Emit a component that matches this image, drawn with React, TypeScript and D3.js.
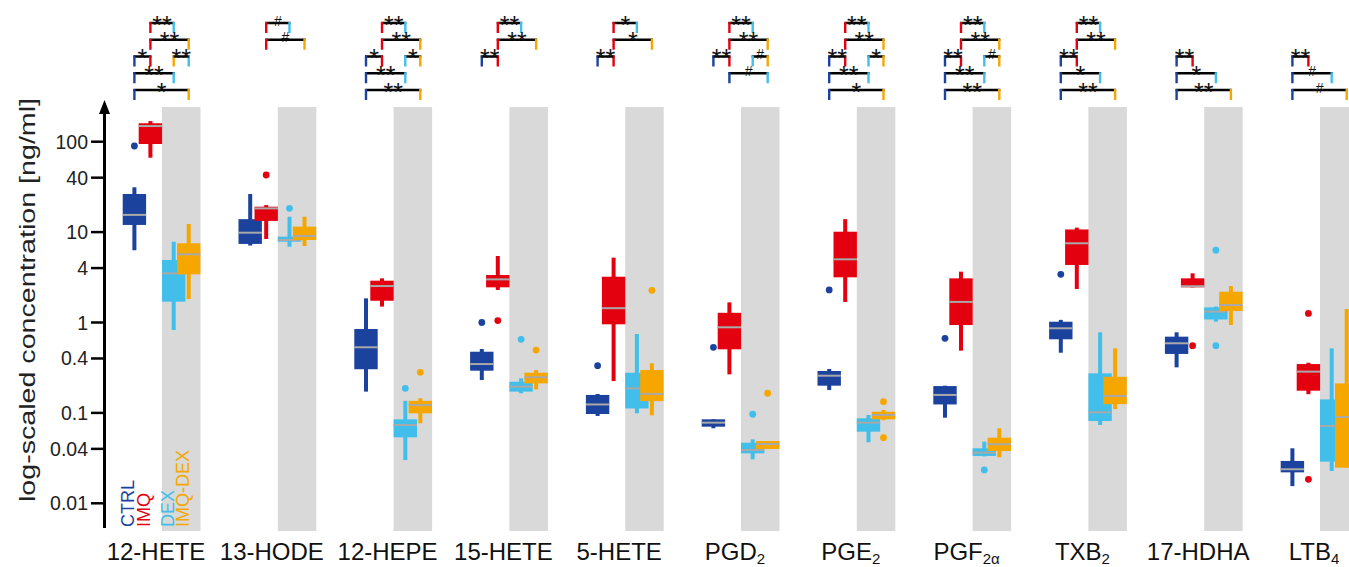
import React from 'react'
import * as d3 from 'd3'

// categories (base name + subscript) and treatment groups
const categories = ['12-HETE', '13-HODE', '12-HEPE', '15-HETE', '5-HETE', 'PGD', 'PGE', 'PGF', 'TXB', '17-HDHA', 'LTB']
const categorySubs = ['', '', '', '', '', '2', '2', '2α', '2', '', '4']
const groups = ['CTRL', 'IMQ', 'DEX', 'IMQ-DEX']
const colors = ['#1b429c', '#e3000f', '#41bfea', '#f5a700']
const yTicks = [100, 40, 10, 4, 1, 0.4, 0.1, 0.04, 0.01]

// box stats per category: [low whisker, q1, median, q3, high whisker]
const ctrlStats = [
  [6.3, 12.0, 15.5, 26.4, 31.3],
  [7.1, 7.4, 9.85, 13.9, 26.4],
  [0.172, 0.304, 0.532, 0.848, 1.85],
  [0.231, 0.293, 0.347, 0.475, 0.509],
  [0.0925, 0.0972, 0.124, 0.158, 0.162],
  [0.0676, 0.0704, 0.078, 0.0849, 0.0849],
  [0.179, 0.2, 0.258, 0.291, 0.306],
  [0.0885, 0.124, 0.158, 0.198, 0.2],
  [0.463, 0.652, 0.863, 1.02, 1.07],
  [0.319, 0.449, 0.589, 0.697, 0.779],
  [0.0155, 0.022, 0.0238, 0.0294, 0.0406],
]
const imqStats = [
  [66.5, 94.3, 149, 160, 169],
  [8.39, 13.3, 18.3, 19.1, 19.9],
  [1.5, 1.74, 2.53, 2.9, 3.08],
  [2.29, 2.45, 3.0, 3.35, 5.44],
  [0.225, 0.955, 1.44, 3.21, 5.21],
  [0.267, 0.505, 0.885, 1.28, 1.67],
  [1.69, 3.16, 5.0, 10.1, 13.9],
  [0.488, 0.938, 1.69, 3.08, 3.65],
  [2.35, 4.33, 7.52, 10.7, 11.2],
  [2.45, 2.45, 2.52, 3.08, 3.5],
  [0.161, 0.176, 0.286, 0.347, 0.359],
]
const dexStats = [
  [0.826, 1.7, 3.5, 4.91, 7.83],
  [6.89, 7.83, 8.18, 8.9, 14.8],
  [0.0301, 0.0537, 0.0735, 0.0849, 0.136],
  [0.165, 0.172, 0.195, 0.221, 0.241],
  [0.099, 0.112, 0.187, 0.278, 0.746],
  [0.0307, 0.0357, 0.0389, 0.0468, 0.051],
  [0.0473, 0.062, 0.078, 0.0871, 0.0948],
  [0.033, 0.0334, 0.0363, 0.0406, 0.048],
  [0.0735, 0.0813, 0.1015, 0.274, 0.779],
  [1.02, 1.08, 1.32, 1.47, 1.5],
  [0.0228, 0.0289, 0.0716, 0.141, 0.518],
]
const imqDexStats = [
  [1.82, 3.41, 5.68, 7.52, 12.3],
  [7.02, 8.18, 9.06, 11.5, 14.8],
  [0.0767, 0.099, 0.122, 0.136, 0.145],
  [0.182, 0.212, 0.248, 0.278, 0.298],
  [0.094, 0.135, 0.162, 0.298, 0.354],
  [0.0399, 0.0399, 0.0453, 0.0489, 0.0489],
  [0.083, 0.0849, 0.0948, 0.103, 0.108],
  [0.0323, 0.0379, 0.045, 0.0532, 0.0676],
  [0.11, 0.125, 0.154, 0.251, 0.518],
  [0.938, 1.34, 1.56, 2.19, 2.53],
  [0.0248, 0.0248, 0.09, 0.212, 1.41],
]

// outliers per category
const ctrlOutliers = [[89.6], [], [], [1.0], [0.333], [0.532], [2.29], [0.669], [3.41], [], []]
const imqOutliers = [[], [42.8], [], [1.05], [], [], [], [], [], [0.554], [1.26, 0.0184]]
const dexOutliers = [[], [18.3], [0.187], [0.652], [], [0.0966], [], [0.0234], [], [6.3, 0.554], []]
const imqDexOutliers = [[], [], [0.281], [0.496], [2.27], [0.165], [0.133, 0.0532], [], [], [], []]

// significance brackets: [category, row, from slot, to slot, label, from colour, to colour]
const brackets = [
  [0, 0, 1, 2, '**'], [0, 1, 1, 3, '**'], [0, 2, 0, 1, '*'], [0, 2, 2, 3, '**', 3, 2], [0, 3, 0, 2, '**'], [0, 4, 0, 3, '*'],
  [1, 0, 1, 2, '#'], [1, 1, 1, 3, '#'],
  [2, 0, 1, 2, '**'], [2, 1, 1, 3, '**'], [2, 2, 0, 1, '*'], [2, 2, 2, 3, '*'], [2, 3, 0, 2, '**'], [2, 4, 0, 3, '**'],
  [3, 0, 1, 2, '**'], [3, 1, 1, 3, '**'], [3, 2, 0, 1, '**'],
  [4, 0, 1, 2, '*'], [4, 1, 1, 3, '*'], [4, 2, 0, 1, '**'],
  [5, 0, 1, 2, '**'], [5, 1, 1, 3, '**'], [5, 2, 0, 1, '**'], [5, 2, 2, 3, '#'], [5, 3, 1, 3, '#', 0, 2],
  [6, 0, 1, 2, '**'], [6, 1, 1, 3, '**'], [6, 2, 0, 1, '**'], [6, 2, 2, 3, '*'], [6, 3, 0, 2, '**'], [6, 4, 0, 3, '*'],
  [7, 0, 1, 2, '**'], [7, 1, 1, 3, '**'], [7, 2, 0, 1, '**'], [7, 2, 2, 3, '#'], [7, 3, 0, 2, '**'], [7, 4, 0, 3, '**'],
  [8, 0, 1, 2, '**'], [8, 1, 1, 3, '**'], [8, 2, 0, 1, '**'], [8, 3, 0, 2, '*'], [8, 4, 0, 3, '**'],
  [9, 2, 0, 1, '**'], [9, 3, 0, 2, '*'], [9, 4, 0, 3, '**'],
  [10, 2, 0, 1, '**'], [10, 3, 0, 2, '#'], [10, 4, 0, 3, '#'],
]

const stats = [ctrlStats, imqStats, dexStats, imqDexStats]
const outliers = [ctrlOutliers, imqOutliers, dexOutliers, imqDexOutliers]

const W = 1349
const H = 567
const FONT = '"Liberation Sans", Arial, sans-serif'
const boxW = 23.4
const slotLeft = [-39.3, -23.3, 0, 15]

export default function App() {
  const y = d3.scaleLog().domain([0.01, 100]).range([503.3, 141.7])
  const band = d3.scaleLinear().domain([0, categories.length - 1]).range([162, 1320])
  const rowY = d3.scaleLinear().domain([0, 4]).range([23, 90])
  const cx = (c, g) => band(c) + slotLeft[g] + boxW / 2

  return (
    <svg width={W} height={H} style={{ position: 'absolute', left: 0, top: 0, background: '#fff' }} fontFamily={FONT}>
      {/* shaded DEX columns */}
      {categories.map((c, i) => (
        <rect key={'bg' + i} x={band(i)} y={107} width={38.5} height={424} fill="#d9d9d9" />
      ))}

      {/* y axis */}
      <line x1={104.5} x2={104.5} y1={110} y2={528} stroke="#000" strokeWidth={3} />
      <path d="M104.5,100 L110,114 L99,114 Z" fill="#000" />
      {yTicks.map((t) => (
        <g key={'t' + t}>
          <line x1={91} x2={104} y1={y(t)} y2={y(t)} stroke="#000" strokeWidth={2.5} />
          <text x={88} y={y(t)} dy="0.36em" textAnchor="end" fontSize={19.5} fill="#222">
            {String(t)}
          </text>
        </g>
      ))}
      <text
        transform="translate(35,300) rotate(-90)"
        textAnchor="middle"
        fontSize={22}
        fill="#222"
        textLength={404}
        lengthAdjust="spacingAndGlyphs"
      >
        log-scaled concentration [ng/ml]
      </text>

      {/* boxes */}
      {categories.map((c, i) => (
        <g key={'cat' + i}>
          {groups.map((g, gi) => {
            const [lo, q1, med, q3, hi] = stats[gi][i]
            const x0 = band(i) + slotLeft[gi]
            const xc = x0 + boxW / 2
            return (
              <g key={g}>
                <rect x={xc - 2} y={y(hi)} width={4} height={y(lo) - y(hi)} fill={colors[gi]} />
                <rect x={x0} y={y(q3)} width={boxW} height={Math.max(y(q1) - y(q3), 1)} fill={colors[gi]} />
                <line x1={x0} x2={x0 + boxW} y1={y(med)} y2={y(med)} stroke="#a9a9a9" strokeWidth={2} />
                {outliers[gi][i].map((o, k) => (
                  <circle key={k} cx={xc} cy={y(o)} r={3.4} fill={colors[gi]} />
                ))}
              </g>
            )
          })}
        </g>
      ))}

      {/* significance brackets */}
      {brackets.map((b, k) => {
        const [c, row, from, to, label, fc, tc] = b as any[]
        const x1 = cx(c, from)
        const x2 = cx(c, to)
        const ly = rowY(row)
        const colA = colors[fc ?? from]
        const colB = colors[tc ?? to]
        const isHash = label === '#'
        return (
          <g key={'b' + k}>
            <line x1={x1 - 1} x2={x2 + 1} y1={ly} y2={ly} stroke="#000" strokeWidth={2.5} />
            <rect x={x1 - 1.2} y={ly - 1} width={2.4} height={11} fill={colA} />
            <rect x={x2 - 1.2} y={ly - 1} width={2.4} height={11} fill={colB} />
            <text
              x={(x1 + x2) / 2}
              y={isHash ? ly + 2.5 : ly + 10.5}
              textAnchor="middle"
              fontSize={isHash ? 14 : 25}
              fill="#111"
            >
              {label}
            </text>
          </g>
        )
      })}

      {/* legend */}
      {groups.map((g, gi) => (
        <text
          key={'lg' + g}
          transform={`translate(${cx(0, gi)},527) rotate(-90)`}
          fontSize={18}
          fill={colors[gi]}
        >
          {g}
        </text>
      ))}

      {/* category labels */}
      {categories.map((c, i) => (
        <text key={'xl' + i} x={band(i) - 6} y={560} textAnchor="middle" fontSize={24} fill="#111">
          {c}
          {categorySubs[i] && (
            <tspan fontSize={15} dy={4}>
              {categorySubs[i]}
            </tspan>
          )}
        </text>
      ))}
    </svg>
  )
}
